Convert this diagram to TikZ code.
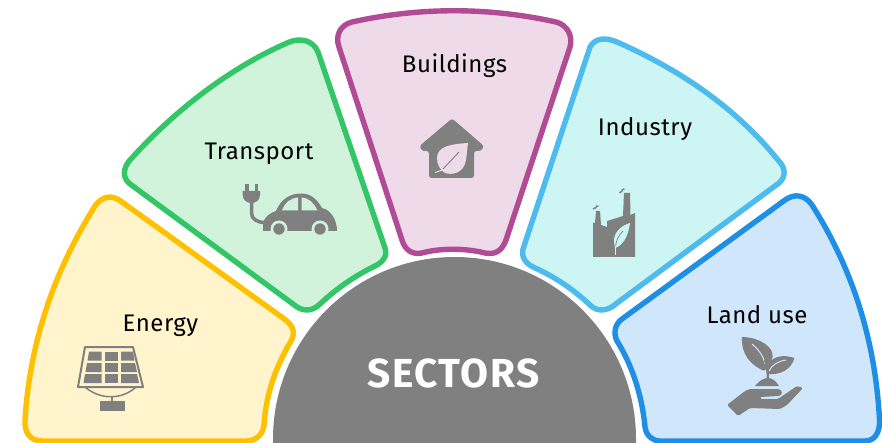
\documentclass[tikz,border=0pt]{standalone}
\usepackage{fontspec}
\setmainfont{Fira Sans}
\newfontface\labfont{Fira Sans}[LetterSpace=2.2]
\newfontface\hubfont{Fira Sans Bold}[LetterSpace=3.5]
\definecolor{iconc}{HTML}{808080}
\definecolor{ener}{HTML}{FFC000}\definecolor{enerf}{HTML}{FFF4CC}
\definecolor{tran}{HTML}{33C666}\definecolor{tranf}{HTML}{D1F3DC}
\definecolor{buil}{HTML}{B14B95}\definecolor{builf}{HTML}{EEDAE9}
\definecolor{indu}{HTML}{4DBBEE}\definecolor{induf}{HTML}{CDF5F3}
\definecolor{land}{HTML}{1E8FE5}\definecolor{landf}{HTML}{D0E6FA}
\tikzset{
  sector/.style={line width=5.4pt,line join=round},
  lab/.style={font=\labfont\fontsize{24}{25}\selectfont,text=black,inner sep=0pt},
  icon/.style={fill=iconc,draw=none},
  iconline/.style={draw=iconc,fill=none}
}
\begin{document}
\begin{tikzpicture}[x=1pt,y=-1pt]
\useasboundingbox (0,0) rectangle (882,443);
\fill[white] (0,0) rectangle (882,443);
% hub
\fill[iconc] (273,443) -- (273,439) arc[start angle=180,end angle=0,x radius=181.5,y radius=-182] -- (636,443) -- cycle;
\node[font=\hubfont\fontsize{40.5}{42}\selectfont,text=white,inner sep=0pt] (hub) at (453.5,373) {SECTORS};
% Energy
\draw[sector,draw=ener,fill=enerf] (122,202) -- (283,318) .. controls (293,325) and (296,332) .. (291,341) .. controls (275,368) and (266,395) .. (264,425) .. controls (263,435) and (255,441) .. (247,441) -- (42,441) .. controls (30,441) and (24,432) .. (25,420) .. controls (30,340) and (55,270) .. (95,206) .. controls (102,196) and (112,194) .. (122,202) -- cycle;
% Transport
\draw[sector,draw=tran,fill=tranf] (287,43) .. controls (300,37) and (313,40) .. (318,52) -- (385,248) .. controls (388,257) and (382,263) .. (373,267) .. controls (355,276) and (337,288) .. (320,304) .. controls (312,312) and (302,312) .. (293,304) -- (130,184) .. controls (122,178) and (123,168) .. (130,160) .. controls (175,110) and (230,68) .. (287,43) -- cycle;
% Buildings
\draw[sector,draw=buil,fill=builf] (352,22) .. controls (420,7) and (488,7) .. (556,22) .. controls (568,25) and (573,37) .. (570,47) -- (506,240) .. controls (502,251) and (495,255) .. (485,253) .. controls (465,248) and (440,248) .. (422,253) .. controls (412,255) and (405,250) .. (402,240) -- (339,47) .. controls (335,36) and (340,25) .. (352,22) -- cycle;
% Industry
\draw[sector,draw=indu,fill=induf] (617,42) .. controls (680,70) and (735,107) .. (778,160) .. controls (786,168) and (786,177) .. (779,183) -- (617,303) .. controls (607,312) and (597,312) .. (590,305) .. controls (572,288) and (553,276) .. (533,267) .. controls (525,263) and (520,256) .. (524,246) -- (590,47) .. controls (595,38) and (605,37) .. (617,42) -- cycle;
% Land use
\draw[sector,draw=land,fill=landf] (785,200) .. controls (795,193) and (805,195) .. (812,205) .. controls (850,265) and (875,335) .. (879.5,420) .. controls (880,432) and (875,441) .. (865,441) -- (660,441) .. controls (652,441) and (646,435) .. (645,427) .. controls (642,395) and (632,365) .. (617,341) .. controls (613,333) and (615,324) .. (622,319) -- cycle;
% labels
\node[lab] (energy) at (160.5,326) {Energy};
\node[lab] (transport) at (259,153.5) {Transport};
\node[lab] (buildings) at (454.5,66) {Buildings};
\node[lab] (industry) at (645,129) {Industry};
\node[lab] (landuse) at (757,315) {Land use};
% solar panel
\draw[iconline,line width=2pt,line join=round] (85,347) -- (133,347) -- (143,387) -- (78,387) -- cycle;
\draw[iconline,line width=1.5pt] (85,387) .. controls (100,400) and (122,400) .. (136,387);
\draw[iconline,line width=1.5pt] (112,397) -- (112,402);
\fill[icon] (99.5,401) rectangle (124.5,411);
\fill[icon] (89,351.5) -- (101.5,351.5) -- (101.5,360.5) -- (87.5,360.5) -- cycle;
\fill[icon] (104.5,351.5) rectangle (118,360.5);
\fill[icon] (121,351.5) -- (133,351.5) -- (134.5,360.5) -- (121,360.5) -- cycle;
\fill[icon] (87,363) -- (101.5,363) -- (101.5,372) -- (85.5,372) -- cycle;
\fill[icon] (104.5,363) rectangle (118,372);
\fill[icon] (121,363) -- (135,363) -- (137,372) -- (121,372) -- cycle;
\fill[icon] (85,374) -- (101.5,374) -- (101.5,383) -- (83.5,383) -- cycle;
\fill[icon] (104.5,374) rectangle (118,383);
\fill[icon] (121,374) -- (137,374) -- (139,383) -- (121,383) -- cycle;
% plug and car
\fill[icon] (245,184) rectangle (248.5,192);
\fill[icon] (254.5,184) rectangle (258,192);
\fill[icon] (242.7,191) -- (260,191) -- (260,195) .. controls (260,200) and (256,203) .. (251.3,203) .. controls (247,203) and (242.7,200) .. (242.7,195) -- cycle;
\draw[iconline,line width=3.5pt] (251.5,202) -- (251.5,213) .. controls (251.5,219) and (257,222.5) .. (265,222.5);
\fill[icon] (263,231) -- (263,222) .. controls (266,216) and (270,213) .. (276,211) .. controls (281,199) and (290,193.5) .. (301,193.5) .. controls (312,193.5) and (318,201) .. (322,208) .. controls (331,210) and (337,220) .. (337,231) -- cycle;
\fill[tranf] (279,229) circle[radius=8.5];
\fill[tranf] (320,229) circle[radius=8.5];
\fill[tranf] (262,231.2) rectangle (338,236);
\fill[icon] (279,229) circle[radius=5.7];
\fill[icon] (320,229) circle[radius=5.7];
\fill[tranf] (282,210.5) .. controls (285,202) and (291,198) .. (298,197.5) -- (298,210.5) -- cycle;
\fill[tranf] (301.5,197.5) .. controls (309,198) and (314,203) .. (317.5,210.5) -- (301.5,210.5) -- cycle;
% house
\fill[icon,rounded corners=2.5pt] (452,118.5) -- (484,146) -- (481,151) -- (474,151) -- (474,178) -- (429,178) -- (429,151) -- (422,151) -- (419.5,146) -- cycle;
\fill[builf] (468,143) .. controls (452,144) and (437,146) .. (437,158) .. controls (437,165) and (440,169) .. (444,172.5) .. controls (452,176) and (464,173) .. (466,160) .. controls (467,154) and (467,149) .. (468,143) -- cycle;
\draw[iconc,line width=0.9pt] (459,152) -- (443,169);
\draw[builf,line width=1pt] (444,169.5) -- (435,172.5);
% factory
\fill[icon] (593,257) -- (635,257) -- (635,213) -- (630.5,215) -- (630,193) -- (624,193) -- (623,216) -- (607,221) -- (607,227) -- (601,225) -- (600,211) -- (596,211) -- (595,223) -- (593,223) -- cycle;
\fill[induf] (630,223) .. controls (620,226) and (614,233) .. (614,241) .. controls (614,244) and (615,246) .. (615,248) .. controls (622,246) and (628,238) .. (630,223) -- cycle;
\draw[iconc,line width=0.7pt] (623,231) .. controls (618,236) and (616,241) .. (615.5,247);
\draw[induf,line width=1pt] (615,246) -- (615,255);
\draw[iconc,line width=1.4pt] (593,209) .. controls (594,207) and (596,209) .. (596,207.5) .. controls (596,206) and (597,206) .. (598.5,206);
\draw[iconc,line width=1.4pt] (619.5,193) .. controls (620.5,191) and (622,192.5) .. (622,191) .. controls (622,189.5) and (623,189) .. (624.5,189);
% plant and hand
\fill[icon] (742,337) .. controls (756,337) and (769,344) .. (772,352) .. controls (774,358) and (771,364) .. (767,368) .. controls (765,371) and (763,371) .. (762,370) .. controls (750,364) and (741,354) .. (742,337) -- cycle;
\draw[landf,line width=1pt] (752,344) .. controls (758,349) and (763,355) .. (765,364);
\fill[icon] (794.5,358) .. controls (782,354) and (774,357) .. (770,362) .. controls (766,366) and (766,371) .. (769,374) .. controls (780,375) and (791,370) .. (794.5,358) -- cycle;
\draw[landf,line width=1pt] (786,360) .. controls (778,361) and (772,365) .. (769,371);
\draw[iconline,line width=2.4pt] (765,360) .. controls (767,366) and (768,372) .. (768,382);
\fill[icon] (755,386) .. controls (760,380) and (764,378) .. (768,378) .. controls (772,378) and (776,381) .. (779,386) -- cycle;
\fill[icon,rounded corners=1.5pt] (727,405) -- (745,391) -- (750,389) -- (778,389) .. controls (782,390) and (783,395) .. (778,396) -- (760,397) -- (760,399) -- (778,399) -- (797,386) -- (803,388) -- (787,405) -- (780,409) -- (750,408) -- (738,416) -- cycle;
\end{tikzpicture}
\end{document}
